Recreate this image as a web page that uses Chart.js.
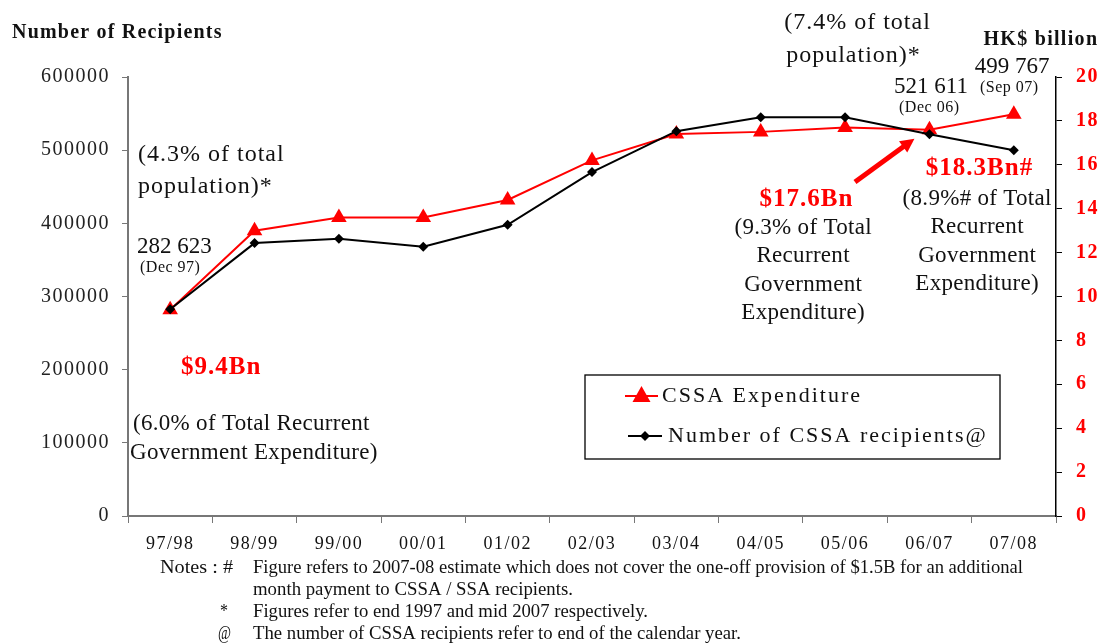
<!DOCTYPE html>
<html>
<head>
<meta charset="utf-8">
<script src="https://cdn.jsdelivr.net/npm/chart.js@4"></script>
<style>
  html, body { margin: 0; padding: 0; background: #fff; }
  #wrap { width: 1103px; height: 644px; }
</style>
</head>
<body>
<div id="wrap"><canvas id="myChart" width="1103" height="644"></canvas></div>
<script>
const years = ['97/98', '98/99', '99/00', '00/01', '01/02', '02/03', '03/04', '04/05', '05/06', '06/07', '07/08'];
// HK$ billion
const expenditure = [9.4, 13.0, 13.6, 13.6, 14.4, 16.2, 17.4, 17.5, 17.7, 17.6, 18.3];
// number of recipients
const recipients = [282623, 373000, 379000, 368000, 398000, 470000, 526000, 545000, 545000, 521611, 499767];
const leftTicks = [0, 100000, 200000, 300000, 400000, 500000, 600000];
const rightTicks = [0, 2, 4, 6, 8, 10, 12, 14, 16, 18, 20];

const SERIF = '"Liberation Serif", "DejaVu Serif", serif';
const RED = '#ff0000';

function txt(ctx, s, x, y, size, opts) {
    opts = opts || {};
    ctx.save();
    ctx.font = (opts.bold ? 'bold ' : '') + size + 'px ' + SERIF;
    ctx.letterSpacing = (opts.sp || 0) + 'px';
    ctx.fillStyle = opts.color || '#111';
    ctx.textBaseline = 'middle';
    let w = ctx.measureText(s).width - (opts.sp || 0);
    let x0 = x;
    if (opts.align === 'center') x0 = x - w / 2;
    if (opts.align === 'right') x0 = x - w;
    ctx.fillText(s, x0, y);
    ctx.restore();
}

// notes in a narrow face, squeezed to the width they take in the picture
function note(ctx, s, x, y, w) {
    ctx.save();
    ctx.font = '18px ' + SERIF;
    ctx.letterSpacing = '0px';
    ctx.fillStyle = '#111';
    ctx.textBaseline = 'middle';
    const m = ctx.measureText(s).width;
    ctx.translate(x, y);
    ctx.scale(w / m, 1);
    ctx.fillText(s, 0, 0);
    ctx.restore();
}

const extras = {
    id: 'extras',
    beforeDraw(chart) {
        chart.ctx.letterSpacing = '1.5px';
    },
    afterDraw(chart) {
        const ctx = chart.ctx;
        const xs = chart.scales.x;
        const yR = chart.scales.yR;

        txt(ctx, 'Number of Recipients', 12, 33, 20, { bold: true, sp: 1.2 });
        txt(ctx, 'HK$ billion', 1097, 40, 20, { bold: true, align: 'right', sp: 1.3 });

        txt(ctx, '(4.3% of total', 138, 155, 24, { sp: 1 });
        txt(ctx, 'population)*', 138, 187, 24, { sp: 1 });
        txt(ctx, '282 623', 137, 247, 23);
        txt(ctx, '(Dec 97)', 140, 268, 16, { sp: 0.5 });
        txt(ctx, '$9.4Bn', 181, 368, 25, { bold: true, color: RED, sp: 1 });
        txt(ctx, '(6.0% of Total Recurrent', 133, 424, 23, { sp: 0.3 });
        txt(ctx, 'Government Expenditure)', 130, 453, 23, { sp: 0.3 });

        txt(ctx, '(7.4% of total', 857, 23, 24, { align: 'center', sp: 1 });
        txt(ctx, 'population)*', 853, 56, 24, { align: 'center', sp: 1 });
        txt(ctx, '499 767', 1012, 67, 23, { align: 'center' });
        txt(ctx, '(Sep 07)', 1009, 88, 16, { align: 'center', sp: 0.5 });
        txt(ctx, '521 611', 931, 87, 23, { align: 'center' });
        txt(ctx, '(Dec 06)', 929, 108, 16, { align: 'center', sp: 0.5 });

        txt(ctx, '$17.6Bn', 806, 200, 25, { bold: true, color: RED, align: 'center', sp: 1 });
        ['(9.3% of Total', 'Recurrent', 'Government', 'Expenditure)'].forEach((s, i) =>
            txt(ctx, s, 803, 228 + i * 28.3, 23, { align: 'center', sp: 0.3 }));
        txt(ctx, '$18.3Bn#', 979, 169, 25, { bold: true, color: RED, align: 'center', sp: 1 });
        ['(8.9%# of Total', 'Recurrent', 'Government', 'Expenditure)'].forEach((s, i) =>
            txt(ctx, s, 977, 199 + i * 28.3, 23, { align: 'center', sp: 0.3 }));

        // red arrow pointing at the 06/07 expenditure point
        const tx = xs.getPixelForValue(9) - 15, ty = yR.getPixelForValue(expenditure[9]) + 9;
        const fx = 855, fy = 182;
        const a = Math.atan2(ty - fy, tx - fx);
        ctx.save();
        ctx.strokeStyle = RED;
        ctx.fillStyle = RED;
        ctx.lineWidth = 5;
        ctx.beginPath();
        ctx.moveTo(fx, fy);
        ctx.lineTo(tx - 10 * Math.cos(a), ty - 10 * Math.sin(a));
        ctx.stroke();
        ctx.beginPath();
        ctx.moveTo(tx, ty);
        ctx.lineTo(tx - 14 * Math.cos(a) + 7 * Math.sin(a), ty - 14 * Math.sin(a) - 7 * Math.cos(a));
        ctx.lineTo(tx - 14 * Math.cos(a) - 7 * Math.sin(a), ty - 14 * Math.sin(a) + 7 * Math.cos(a));
        ctx.closePath();
        ctx.fill();
        ctx.restore();

        // legend box
        ctx.save();
        ctx.strokeStyle = '#000';
        ctx.lineWidth = 1.3;
        ctx.strokeRect(585, 375, 415, 84);
        ctx.lineWidth = 2;
        ctx.strokeStyle = RED;
        ctx.beginPath(); ctx.moveTo(625, 396); ctx.lineTo(658, 396); ctx.stroke();
        ctx.fillStyle = RED;
        ctx.beginPath(); ctx.moveTo(641.5, 386); ctx.lineTo(650.5, 402); ctx.lineTo(632.5, 402); ctx.closePath(); ctx.fill();
        ctx.strokeStyle = '#000';
        ctx.beginPath(); ctx.moveTo(628, 436); ctx.lineTo(662, 436); ctx.stroke();
        ctx.fillStyle = '#000';
        ctx.beginPath(); ctx.moveTo(645, 431); ctx.lineTo(650, 436); ctx.lineTo(645, 441); ctx.lineTo(640, 436); ctx.closePath(); ctx.fill();
        ctx.restore();
        txt(ctx, 'CSSA Expenditure', 662, 396, 22, { sp: 2 });
        txt(ctx, 'Number of CSSA recipients@', 668, 436, 22, { sp: 2 });

        // notes
        note(ctx, 'Notes : #', 160, 568, 73);
        note(ctx, 'Figure refers to 2007-08 estimate which does not cover the one-off provision of $1.5B for an additional', 253, 568, 770);
        note(ctx, 'month payment to CSSA / SSA recipients.', 253, 590, 320);
        note(ctx, '*', 220, 612, 8);
        note(ctx, 'Figures refer to end 1997 and mid 2007 respectively.', 253, 612, 395);
        note(ctx, '@', 218, 634, 13);
        note(ctx, 'The number of CSSA recipients refer to end of the calendar year.', 253, 634, 488);
    }
};

const ch = document.getElementById('myChart').getContext('2d');

const data = {
    labels: years,
    datasets: [{
        label: 'CSSA Expenditure',
        data: expenditure,
        yAxisID: 'yR',
        borderColor: RED,
        backgroundColor: RED,
        borderWidth: 2,
        pointStyle: 'triangle',
        pointRadius: 9,
        pointHoverRadius: 9,
        pointBorderWidth: 0,
        tension: 0,
        order: 2
    }, {
        label: 'Number of CSSA recipients@',
        data: recipients,
        yAxisID: 'y',
        borderColor: '#000',
        backgroundColor: '#000',
        borderWidth: 2,
        pointStyle: 'rectRot',
        pointRadius: 5,
        pointHoverRadius: 5,
        pointBorderWidth: 0,
        tension: 0,
        order: 1
    }]
};

const config = {
    type: 'line',
    data: data,
    options: {
        responsive: false,
        animation: false,
        layout: { padding: { top: 77, left: 0, right: 0, bottom: 0 } },
        plugins: {
            legend: { display: false },
            tooltip: { enabled: false }
        },
        scales: {
            x: {
                offset: true,
                grid: { offset: true, drawOnChartArea: false, drawTicks: true, tickLength: 7, color: '#777' },
                border: { color: '#777', width: 2 },
                ticks: { color: '#111', font: { family: SERIF, size: 18 }, padding: 10, maxRotation: 0 },
                afterFit(s) { s.height = 128; }
            },
            y: {
                position: 'left',
                min: 0, max: 600000,
                afterBuildTicks(s) { s.ticks = leftTicks.map(v => ({ value: v })); },
                grid: { drawOnChartArea: false, tickLength: 6, color: '#777' },
                border: { color: '#777', width: 2 },
                ticks: { color: '#222', font: { family: SERIF, size: 20 }, padding: 12, callback: v => String(v) },
                afterFit(s) { s.width = 128; }
            },
            yR: {
                position: 'right',
                min: 0, max: 20,
                afterBuildTicks(s) { s.ticks = rightTicks.map(v => ({ value: v })); },
                grid: { drawOnChartArea: false, tickLength: 6, color: '#000' },
                border: { color: '#000', width: 1.5 },
                ticks: { color: RED, font: { family: SERIF, size: 20, weight: 'bold' }, padding: 14 },
                afterFit(s) { s.width = 47; }
            }
        }
    },
    plugins: [extras]
};

const myChart = new Chart(ch, config);
</script>
</body>
</html>
